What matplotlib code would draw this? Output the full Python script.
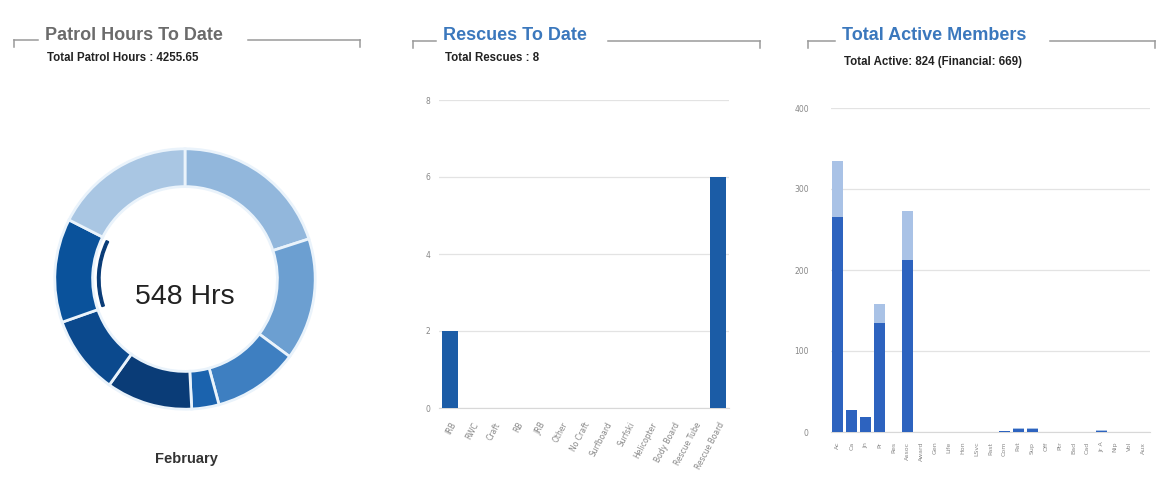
import numpy as np
import matplotlib
matplotlib.use("Agg")
import matplotlib.pyplot as plt
from matplotlib.lines import Line2D
from matplotlib.patches import Wedge

# ---------------- data ----------------
patrol_months = ["October", "November", "December", "January", "February", "March", "April", "September"]
patrol_hours = [852, 644, 453, 144, 455, 415, 548, 745]
patrol_colors = ["#92b7dc", "#6c9fd1", "#3e7fc1", "#1b63ae", "#0a3c77", "#0b498d", "#0a529b", "#a9c6e3"]
patrol_total = 4255.65
selected_index = 6
selected_label = "February"
selected_hours = 548

rescue_types = ["IRB", "RWC", "Craft", "RB", "JRB", "Other", "No Craft", "Surfboard",
                "Surfski", "Helicopter", "Body Board", "Rescue Tube", "Rescue Board"]
rescue_counts = [2, 0, 0, 0, 0, 0, 0, 0, 0, 0, 0, 0, 6]
rescue_ticks = [0, 2, 4, 6, 8]

member_types = ["Ac", "Ca", "Jn", "Pr", "Res", "Assoc", "Award", "Gen", "Life", "Hon",
                "LSvc", "Past", "Com", "Pat", "Sup", "Off", "Ptr", "Bad", "Cad", "Jr A",
                "Nip", "Vol", "Aux"]
member_total = [334, 27, 19, 158, 0, 273, 0, 0, 0, 0, 0, 0, 1, 5, 5, 0, 0, 0, 0, 2, 0, 0, 0]
member_financial = [266, 27, 19, 135, 0, 212, 0, 0, 0, 0, 0, 0, 1, 4, 4, 0, 0, 0, 0, 1, 0, 0, 0]
member_ticks = [0, 100, 200, 300, 400]

W, H = 1157, 496
fig = plt.figure(figsize=(W / 100, H / 100), dpi=100)
fig.patch.set_facecolor("white")

def fx(px):
    return px / W

def fy(py):
    return 1 - py / H

def bracket(x0, x1, tx0, tx1, y, title, tcolor, sub, suby):
    c = "#9a9a9a"
    for xs, ys in [([x0, x0], [y + 7, y]), ([x0, tx0], [y, y]), ([tx1, x1], [y, y]), ([x1, x1], [y, y + 7])]:
        fig.add_artist(Line2D([fx(v) for v in xs], [fy(v) for v in ys], color=c, lw=1.1,
                              transform=fig.transFigure))
    fig.text(fx(tx0 + 7), fy(y - 5), title, color=tcolor, fontsize=13, fontweight="bold",
             family=["Liberation Sans", "DejaVu Sans"], ha="left", va="center")
    fig.text(fx(tx0 + 9), fy(suby), sub, color="#222222", fontsize=8.3, fontweight="bold",
             family=["Liberation Sans", "DejaVu Sans"], ha="left", va="center")

bracket(14, 360, 38, 248, 40, "Patrol Hours To Date", "#6b6b6b",
        f"Total Patrol Hours : {patrol_total:.2f}", 58)
bracket(413, 760, 436, 608, 41, "Rescues To Date", "#3b78bd",
        f"Total Rescues : {sum(rescue_counts)}", 58)
bracket(808, 1155, 835, 1050, 41, "Total Active Members", "#3b78bd",
        f"Total Active: {sum(member_total)} (Financial: {sum(member_financial)})", 62)

# ---------------- donut ----------------
cx, cy, R = 185, 279, 140
axd = fig.add_axes([fx(cx - R), fy(cy + R), 2 * R / W, 2 * R / H])
axd.axis("off")
rout = 0.93
rw = 0.27
wedges, _ = axd.pie(patrol_hours, colors=patrol_colors, startangle=90, counterclock=False,
                    radius=rout, wedgeprops=dict(width=rw, edgecolor="#eaf3fb", linewidth=2))
sel = wedges[selected_index]
axd.add_patch(Wedge((0, 0), rout - rw - 0.035, sel.theta1 + 1, sel.theta2 - 1, width=0.018,
                    color="#0a3c77"))
axd.set_xlim(-1, 1)
axd.set_ylim(-1, 1)
axd.set_aspect("equal")
axd.text(0, -0.13, f"{selected_hours} Hrs", ha="center", va="center", fontsize=20.5,
         color="#222222", family=["Liberation Sans", "DejaVu Sans"])
fig.text(fx(186), fy(459), selected_label, ha="center", va="center", fontsize=10.5,
         color="#333333", fontweight="bold", family=["Liberation Sans", "DejaVu Sans"])

def style_axes(ax, ypad):
    for s in ["top", "right", "left"]:
        ax.spines[s].set_visible(False)
    ax.spines["bottom"].set_color("#d8d8d8")
    ax.spines["bottom"].set_zorder(0)
    ax.grid(axis="y", color="#e3e3e3", lw=0.9)
    ax.set_axisbelow(True)
    ax.tick_params(axis="both", length=0, labelsize=5.5, labelcolor="#888888")
    ax.tick_params(axis="y", pad=ypad)
    ax.set_facecolor("none")

# ---------------- rescues ----------------
axr = fig.add_axes([fx(439), fy(408), (729 - 439) / W, (408 - 100) / H])
xr = np.arange(len(rescue_types))
axr.bar(xr, rescue_counts, width=0.72, color="#1b5ca6")
axr.set_xlim(-0.5, len(rescue_types) - 0.5)
axr.set_ylim(0, 8)
axr.set_yticks(rescue_ticks)
axr.set_xticks(xr)
axr.set_xticklabels(rescue_types, rotation=62, ha="right", va="top", rotation_mode="anchor")
style_axes(axr, 6)
axr.tick_params(axis="x", pad=9)

# ---------------- members ----------------
axm = fig.add_axes([fx(831), fy(432), (1150 - 831) / W, (432 - 108) / H])
xm = np.arange(len(member_types))
axm.bar(xm, member_total, width=0.8, color="#a9c2e6")
axm.bar(xm, member_financial, width=0.8, color="#2d63bf")
axm.set_xlim(-0.5, len(member_types) - 0.5)
axm.set_ylim(0, 400)
axm.set_yticks(member_ticks)
axm.set_xticks(xm)
axm.set_xticklabels(member_types, rotation=90, ha="center", va="top")
style_axes(axm, 16)
axm.tick_params(axis="x", labelsize=4.5, pad=7)

fig.savefig("out.png", dpi=100, facecolor="white")
